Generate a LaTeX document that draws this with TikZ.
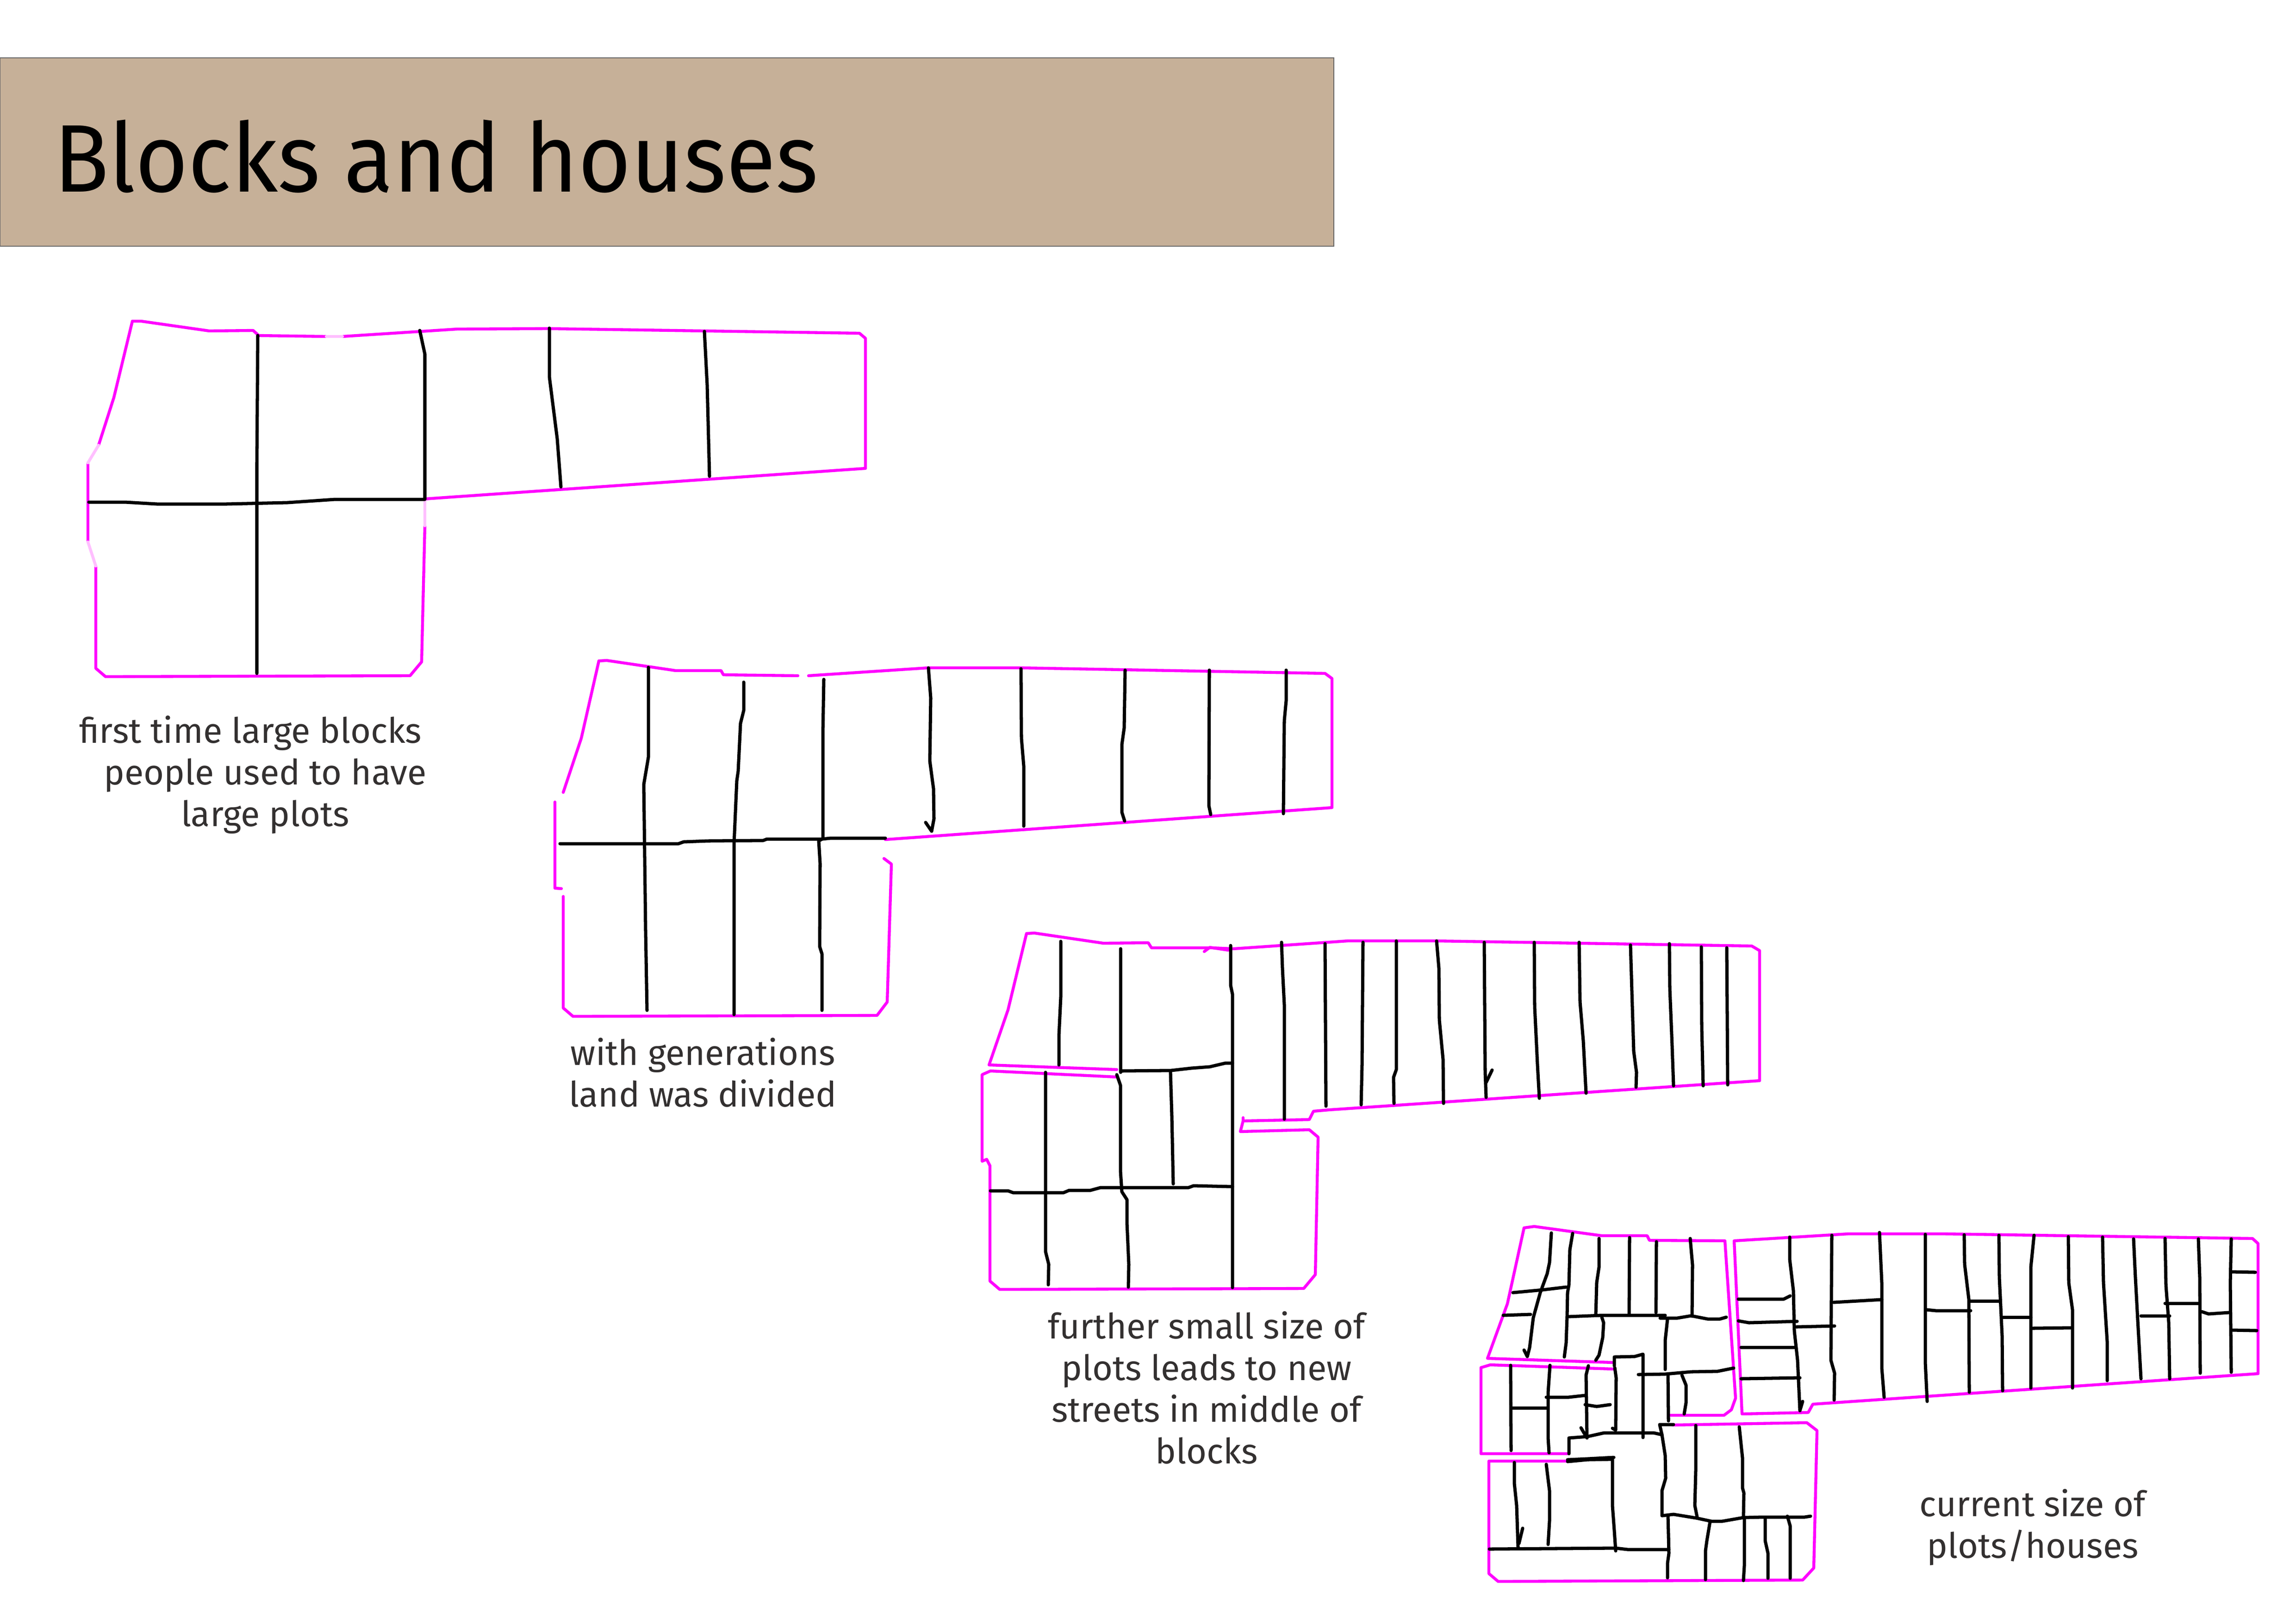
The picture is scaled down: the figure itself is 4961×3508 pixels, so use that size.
\documentclass[tikz,border=0pt]{standalone}
\usepackage{fontspec}
\setmainfont{Fira Sans}
\newfontfamily\titlefont[FakeStretch=0.945]{Fira Sans}
\usepackage{tikz}
\definecolor{bannertan}{HTML}{C6B098}
\definecolor{captiongrey}{HTML}{333030}
\definecolor{plotmagenta}{RGB}{255,0,255}

\begin{document}
\begin{tikzpicture}[x=0.01cm,y=-0.01cm,
		outline/.style={draw=plotmagenta,line width=1.8pt,line join=round,line cap=round},
		faded/.style={draw=plotmagenta!25,line width=1.8pt,line cap=round},
		plot/.style={draw=black,line width=2pt,line join=round,line cap=round},
		caption/.style={font=\fontsize{21.5}{25.6}\selectfont,text=captiongrey,align=center,inner sep=0pt}]
		\useasboundingbox (0,0) rectangle (4961,3508);
		
		% Banner
		\filldraw[fill=bannertan,draw=black!60,line width=0.4pt] (0,125) rectangle (2882,532);
		\node[anchor=base west,inner sep=0pt,font=\titlefont\fontsize{59}{70}\selectfont] (title) at (116,414) {Blocks and houses};
		
		% Block 1
		\draw[outline] (286,694) -- (305,694) -- (452,715) -- (547,714) -- (559,725) -- (705,727);
		\draw[outline] (740,727) -- (988,711) -- (1185,710) -- (1857,720) -- (1870,731) -- (1870,1012) -- (918,1078);
		\draw[outline] (918,1136) -- (911,1430) -- (886,1460) -- (228,1462) -- (207,1444) -- (207,1223);
		\draw[outline] (190,1171) -- (190,1000);
		\draw[outline] (213,962) -- (246,859) -- (286,694);
		\draw[faded] (705,727) -- (740,727);
		\draw[faded] (918,1078) -- (918,1136);
		\draw[faded] (190,1171) -- (207,1223);
		\draw[faded] (190,1000) -- (213,962);
		\draw[plot] (557,725) -- (555,1000) -- (555,1455);
		\draw[plot] (907,714) -- (918,765) -- (918,1078);
		\draw[plot] (1187,709) -- (1187,814) -- (1204,948) -- (1212,1052);
		\draw[plot] (1522,716) -- (1528,832) -- (1533,1029);
		\draw[plot] (192,1085) -- (270,1085) -- (339,1089) -- (489,1089) -- (621,1086) -- (724,1079) -- (918,1079);
		
		% Block 2
		\draw[outline] (1294,1428) -- (1311,1427) -- (1460,1449) -- (1558,1449) -- (1563,1458) -- (1724,1460);
		\draw[outline] (1747,1460) -- (2005,1443) -- (2206,1443) -- (2863,1455) -- (2878,1466) -- (2878,1745) -- (1913,1814);
		\draw[outline] (1910,1855) -- (1926,1867) -- (1917,2165) -- (1895,2194) -- (1238,2196) -- (1217,2178) -- (1217,1937);
		\draw[outline] (1213,1920) -- (1199,1919) -- (1199,1733);
		\draw[outline] (1217,1712) -- (1256,1595) -- (1294,1428);
		\draw[plot] (1401,1442) -- (1401,1636) -- (1391,1695) -- (1395,2012) -- (1398,2183);
		\draw[plot] (1607,1474) -- (1607,1535) -- (1600,1563) -- (1595,1666) -- (1592,1687) -- (1586,1823) -- (1586,2192);
		\draw[plot] (1780,1468) -- (1778,1584) -- (1778,1812) -- (1769,1817) -- (1772,1866) -- (1771,2045) -- (1776,2061) -- (1776,2183);
		\draw[plot] (2006,1443) -- (2011,1508) -- (2009,1644) -- (2017,1704) -- (2018,1769) -- (2013,1796) -- (2000,1777);
		\draw[plot] (2206,1445) -- (2207,1595) -- (2212,1655) -- (2212,1785);
		\draw[plot] (2431,1448) -- (2429,1573) -- (2424,1609) -- (2424,1755) -- (2430,1774);
		\draw[plot] (2613,1448) -- (2612,1741) -- (2616,1760);
		\draw[plot] (2779,1448) -- (2779,1514) -- (2775,1557) -- (2773,1758);
		\draw[plot] (1210,1823) -- (1466,1823) -- (1477,1819) -- (1529,1817) -- (1649,1816) -- (1657,1813) -- (1776,1813) -- (1795,1811) -- (1913,1811);
		
		% Block 3
		\draw[outline] (2413,2311) -- (2137,2301) -- (2178,2182) -- (2218,2017) -- (2235,2016) -- (2384,2038) -- (2481,2037) -- (2488,2048) -- (2620,2048) -- (2665,2050) -- (2912,2033) -- (3102,2033) -- (3785,2044) -- (3802,2054) -- (3802,2335) -- (2872,2398) -- (2838,2401) -- (2829,2419) -- (2686,2422) -- (2686,2415);
		\draw[outline] (2686,2422) -- (2680,2445) -- (2829,2441) -- (2848,2457) -- (2842,2754) -- (2817,2784) -- (2160,2786) -- (2139,2768) -- (2139,2519) -- (2132,2505) -- (2122,2509) -- (2122,2322) -- (2140,2314) -- (2413,2327);
		\draw[outline] (2602,2056) -- (2614,2047) -- (2654,2053);
		\draw[plot] (2292,2034) -- (2292,2154) -- (2288,2238) -- (2288,2301);
		\draw[plot] (2421,2050) -- (2421,2317);
		\draw[plot] (2659,2043) -- (2659,2129) -- (2663,2148) -- (2663,2782);
		\draw[plot] (2259,2317) -- (2259,2704) -- (2266,2732) -- (2265,2776);
		\draw[plot] (2413,2322) -- (2421,2345) -- (2421,2530) -- (2424,2575) -- (2435,2592) -- (2435,2642) -- (2439,2732) -- (2438,2781);
		\draw[plot] (2529,2314) -- (2532,2412) -- (2535,2558);
		\draw[plot] (2421,2314) -- (2530,2313) -- (2574,2308) -- (2614,2305) -- (2648,2297) -- (2663,2297);
		\draw[plot] (2140,2573) -- (2178,2573) -- (2189,2577) -- (2298,2577) -- (2310,2572) -- (2356,2572) -- (2378,2566) -- (2568,2566) -- (2579,2562) -- (2663,2564);
		\draw[plot] (2769,2036) -- (2771,2092) -- (2775,2171) -- (2775,2418);
		\draw[plot] (2863,2039) -- (2865,2390);
		\draw[plot] (2945,2036) -- (2943,2300) -- (2941,2387);
		\draw[plot] (3017,2033) -- (3017,2311) -- (3011,2328) -- (3012,2384);
		\draw[plot] (3104,2033) -- (3109,2092) -- (3110,2204) -- (3118,2289) -- (3119,2384);
		\draw[plot] (3207,2036) -- (3209,2317) -- (3211,2371);
		\draw[plot] (3224,2312) -- (3211,2339);
		\draw[plot] (3315,2036) -- (3316,2176) -- (3322,2300) -- (3326,2373);
		\draw[plot] (3412,2036) -- (3414,2165) -- (3421,2249) -- (3427,2362);
		\draw[plot] (3523,2042) -- (3527,2176) -- (3530,2272) -- (3536,2317) -- (3535,2349);
		\draw[plot] (3607,2039) -- (3608,2137) -- (3613,2261) -- (3616,2346);
		\draw[plot] (3676,2046) -- (3677,2221) -- (3680,2346);
		\draw[plot] (3731,2048) -- (3733,2344);
		
		% Block 4, left part
		\draw[outline] (3486,2944) -- (3214,2935) -- (3257,2817) -- (3293,2653) -- (3315,2650) -- (3461,2670) -- (3559,2670) -- (3564,2680) -- (3727,2681) -- (3750,3021) -- (3741,3046) -- (3725,3058) -- (3608,3058);
		\draw[outline] (3486,2958) -- (3220,2949) -- (3200,2955) -- (3200,3141) -- (3389,3141);
		\draw[outline] (3389,3157) -- (3217,3157) -- (3217,3400) -- (3237,3417) -- (3895,3414) -- (3919,3388) -- (3926,3091) -- (3904,3074) -- (3614,3079);
		\draw[plot] (3352,2664) -- (3348,2728) -- (3343,2752) -- (3328,2793) -- (3313,2847) -- (3305,2912) -- (3300,2931) -- (3293,2917);
		\draw[plot] (3398,2665) -- (3392,2700) -- (3390,2776) -- (3387,2793) -- (3386,2844) -- (3384,2901) -- (3380,2932);
		\draw[plot] (3455,2676) -- (3455,2738) -- (3450,2771) -- (3448,2841);
		\draw[plot] (3521,2674) -- (3520,2839);
		\draw[plot] (3579,2683) -- (3578,2836);
		\draw[plot] (3652,2676) -- (3657,2733) -- (3656,2844);
		\draw[plot] (3269,2793) -- (3333,2787) -- (3384,2781);
		\draw[plot] (3248,2842) -- (3307,2840);
		\draw[plot] (3386,2845) -- (3461,2842) -- (3598,2842);
		\draw[plot] (3587,2848) -- (3624,2848) -- (3654,2843) -- (3690,2850) -- (3716,2850) -- (3730,2846);
		\draw[plot] (3461,2846) -- (3465,2858) -- (3463,2890) -- (3455,2928) -- (3448,2939);
		\draw[plot] (3603,2850) -- (3598,2896) -- (3598,2959);
		\draw[plot] (3488,2951) -- (3488,2932) -- (3532,2931) -- (3550,2926) -- (3550,3106);
		\draw[plot] (3540,2970) -- (3598,2969) -- (3654,2964) -- (3711,2963) -- (3746,2956);
		\draw[plot] (3604,2969) -- (3605,3070);
		\draw[plot] (3634,2971) -- (3643,2993) -- (3643,3031) -- (3639,3055);
		\draw[plot] (3264,2950) -- (3265,3134);
		\draw[plot] (3349,2950) -- (3345,3009) -- (3345,3107) -- (3347,3139);
		\draw[plot] (3267,3042) -- (3343,3042);
		\draw[plot] (3341,3019) -- (3389,3019) -- (3425,3015);
		\draw[plot] (3432,2951) -- (3427,2971) -- (3429,3107) -- (3416,3085);
		\draw[plot] (3425,3035) -- (3450,3039) -- (3479,3035);
		\draw[plot] (3489,2955) -- (3492,2977) -- (3491,3090) -- (3484,3086);
		\draw[plot] (3390,3141) -- (3390,3107) -- (3430,3104) -- (3466,3096) -- (3573,3096) -- (3591,3100);
		\draw[plot] (3616,3078) -- (3586,3078) -- (3591,3100) -- (3598,3145) -- (3599,3194) -- (3591,3221) -- (3591,3275) -- (3616,3272) -- (3665,3280) -- (3698,3287) -- (3721,3287) -- (3767,3279) -- (3808,3278) -- (3899,3278) -- (3912,3276);
		\draw[plot] (3387,3154) -- (3430,3152) -- (3487,3149);
		\draw[plot] (3387,3158) -- (3430,3154) -- (3484,3153) -- (3484,3253) -- (3488,3307) -- (3491,3351);
		\draw[plot] (3218,3347) -- (3491,3345) -- (3517,3348) -- (3606,3348);
		\draw[plot] (3272,3160) -- (3272,3205) -- (3277,3253) -- (3280,3343);
		\draw[plot] (3290,3302) -- (3282,3335);
		\draw[plot] (3341,3164) -- (3348,3221) -- (3348,3286) -- (3345,3337);
		\draw[plot] (3664,3080) -- (3664,3177) -- (3662,3253) -- (3667,3278);
		\draw[plot] (3758,3083) -- (3765,3150) -- (3765,3215) -- (3768,3226) -- (3767,3278);
		\draw[plot] (3604,3275) -- (3606,3356) -- (3603,3378) -- (3603,3409);
		\draw[plot] (3695,3287) -- (3688,3329) -- (3685,3351) -- (3685,3413);
		\draw[plot] (3769,3280) -- (3769,3383) -- (3767,3415);
		\draw[plot] (3814,3280) -- (3814,3329) -- (3820,3356) -- (3820,3410);
		\draw[plot] (3862,3276) -- (3868,3297) -- (3868,3410);
		
		% Block 4, right part
		\draw[outline] (3747,2681) -- (3993,2666) -- (4201,2666) -- (4867,2676) -- (4879,2687) -- (4879,2968) -- (3917,3034) -- (3907,3052) -- (3764,3055) -- (3747,2681);
		\draw[plot] (3867,2673) -- (3867,2721) -- (3875,2789) -- (3877,2876) -- (3884,2939) -- (3889,3048) -- (3895,3028);
		\draw[plot] (3958,2669) -- (3956,2939) -- (3964,2967) -- (3963,3025);
		\draw[plot] (4061,2663) -- (4066,2772) -- (4066,2956) -- (4071,3019);
		\draw[plot] (4160,2667) -- (4160,2944) -- (4164,3028);
		\draw[plot] (4244,2668) -- (4245,2732) -- (4254,2807) -- (4255,3008);
		\draw[plot] (4319,2669) -- (4320,2761) -- (4326,2887) -- (4327,3005);
		\draw[plot] (4395,2669) -- (4388,2738) -- (4388,2999);
		\draw[plot] (4469,2672) -- (4470,2772) -- (4478,2830) -- (4478,2999);
		\draw[plot] (4543,2673) -- (4545,2772) -- (4553,2899) -- (4553,2983);
		\draw[plot] (4610,2677) -- (4614,2761) -- (4619,2853) -- (4626,2979);
		\draw[plot] (4678,2676) -- (4680,2778) -- (4686,2858) -- (4688,2979);
		\draw[plot] (4750,2677) -- (4753,2761) -- (4754,2967);
		\draw[plot] (4821,2677) -- (4819,2772) -- (4821,2965);
		\draw[plot] (3756,2807) -- (3854,2807) -- (3868,2800);
		\draw[plot] (3756,2854) -- (3779,2858) -- (3883,2855);
		\draw[plot] (3762,2911) -- (3877,2911);
		\draw[plot] (3762,2979) -- (3889,2977);
		\draw[plot] (3881,2867) -- (3964,2865);
		\draw[plot] (3962,2814) -- (4066,2808);
		\draw[plot] (4163,2830) -- (4183,2832) -- (4258,2832);
		\draw[plot] (4255,2811) -- (4319,2811);
		\draw[plot] (4326,2846) -- (4388,2846);
		\draw[plot] (4391,2870) -- (4474,2869);
		\draw[plot] (4626,2843) -- (4688,2843);
		\draw[plot] (4678,2816) -- (4750,2816);
		\draw[plot] (4757,2834) -- (4772,2839) -- (4816,2836);
		\draw[plot] (4821,2748) -- (4873,2749);
		\draw[plot] (4824,2874) -- (4876,2875);
		
		% Captions
		\node[caption] (firstlabel) at (573,1674) {first time large blocks\hspace*{18pt}\\people used to have\\large plots};
		\node[caption] (secondlabel) at (1519,2317) {with generations\\land was divided};
		\node[caption] (thirdlabel) at (2607,2998) {further small size of\\plots leads to new\\streets in middle of\\blocks};
		\node[caption] (fourthlabel) at (4392,3300) {current size of\\plots/houses};
	\end{tikzpicture}
\end{document}
